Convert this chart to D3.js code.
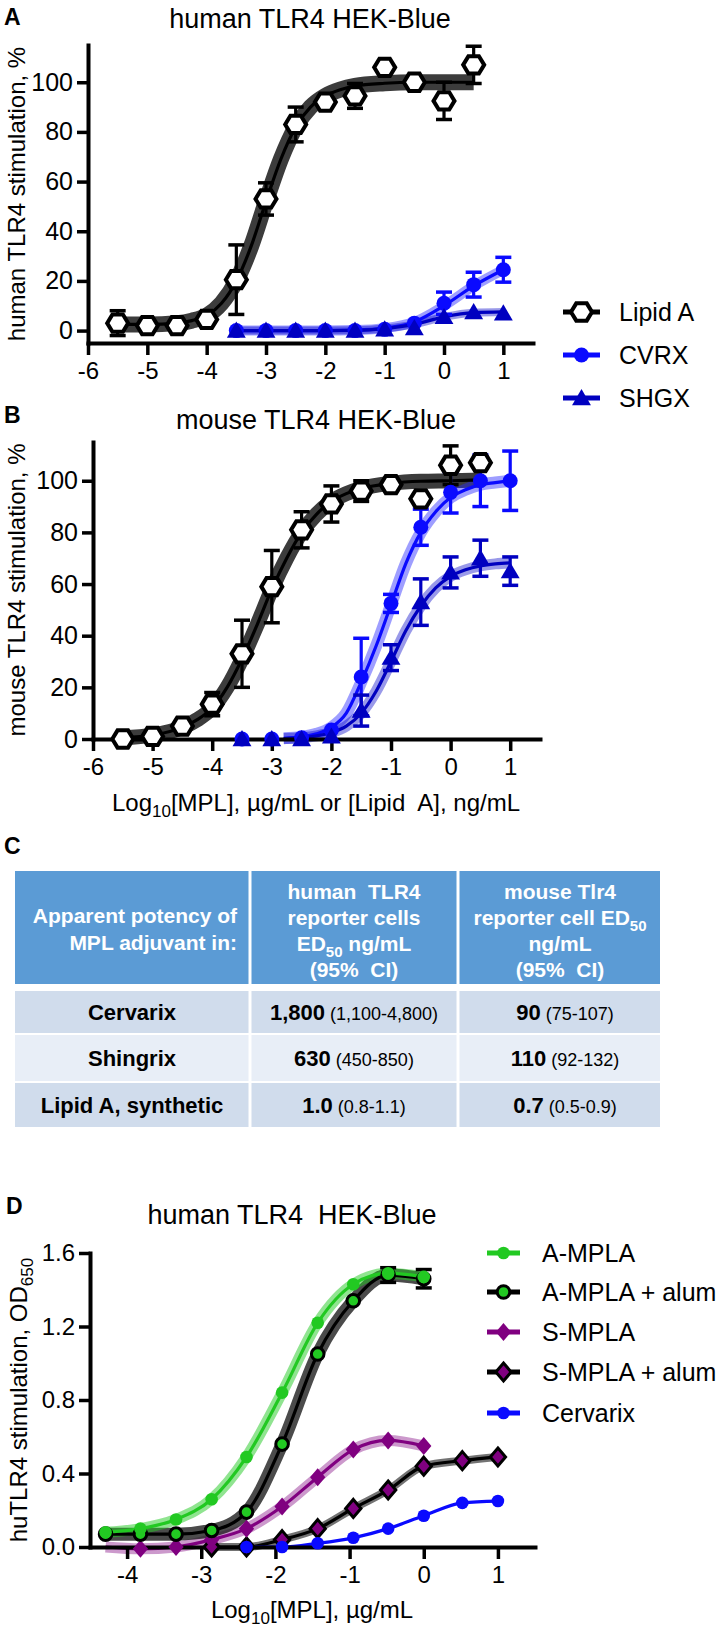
<!DOCTYPE html>
<html>
<head>
<meta charset="utf-8">
<script src="https://cdn.jsdelivr.net/npm/d3@7"></script>
<style>
body { margin: 0; background: #fff; }
svg { display: block; font-family: "Liberation Sans", Arial, sans-serif; }
</style>
</head>
<body>
<svg id="fig" width="719" height="1628"></svg>
<script>

/* ---------- panel A : human TLR4 HEK-Blue (% stimulation) ---------- */
var lipidDose = [-5.5,-5,-4.5,-4,-3.5,-3,-2.5,-2,-1.5,-1,-0.5,0,0.5]
var mplDose = [-3.5,-3,-2.5,-2,-1.5,-1,-0.5,0,0.5,1]

var a_lipid = [3,2,2,4.5,20.5,53,83,92,94.5,106,100,92.5,107]
var a_lipid_err = [5,1,1,1.5,14,6.5,7,2,5,2,1.5,7.5,7.5]
var a_cvrx = [0,0,0,0,0,0.5,3,11,18.5,24.5]
var a_cvrx_err = [0,0,0,0,0,0.5,1.5,4.5,5,5]
var a_shgx = [0,0,0,0,0,0.5,1,5.5,7.5,7]
var a_shgx_err = [0,0,0,0,0,0.5,1,1.5,1.5,1]

/* fitted curves */
var fitA_lipid_x = [-5.5,-5,-4.5,-4.25,-4,-3.75,-3.5,-3.25,-3,-2.75,-2.5,-2.25,-2,-1.75,-1.5,-1,-0.5,0,0.5]
var fitA_lipid = [2.5,2.5,3,4,6,11,20,34,52,69,82,90,94.5,97,98.5,99.6,100,100,100]
var fitA_mpl_x = [-3.5,-3,-2.5,-2,-1.5,-1,-0.5,0,0.5,1]
var fitA_cvrx = [0,0,0,0,0.2,1,3.5,10,18,24.5]
var fitA_shgx = [0,0,0,0,0.1,0.8,2.5,5.5,7.2,7.5]

/* ---------- panel B : mouse TLR4 HEK-Blue ---------- */
var b_lipid = [0,1,5,13.5,33,59,81,91,96,98.5,93,106,107]
var b_lipid_err = [0.5,1,2,4.5,13,14,7,7,4,2,2,7.5,2]
var b_cvrx = [0,0,0.5,3.5,24,52.5,82,95.5,100,100]
var b_cvrx_err = [0,0,0.5,1,15,3.5,7,8,10,11.5]
var b_shgx = [0,0,0,1,11,31.5,53,64.5,70,65]
var b_shgx_err = [0,0,0,1,6,5,9,6,7,5.5]

var fitB_lipid_x = [-5.5,-5,-4.5,-4.25,-4,-3.75,-3.5,-3.25,-3,-2.75,-2.5,-2.25,-2,-1.75,-1.5,-1,-0.5,0,0.5]
var fitB_lipid = [0.5,1.5,4.5,7.5,12,20,31,44,58,70,80,87,92,95,97,99,99.8,100,100.3]
var fitB_mpl_x = [-2.8,-2.5,-2.25,-2,-1.75,-1.5,-1.25,-1,-0.75,-0.5,-0.25,0,0.25,0.5,0.75,1]
var fitB_cvrx = [0.3,0.8,2,4.5,10,22,36,52,68,80,88,93.5,96.5,98.5,99.3,100]
var fitB_shgx = [0.2,0.5,1.2,2.5,5,10,18.5,30,42,51.5,58.5,63,65.5,67,67.8,68.2]

var logTicks = [-6,-5,-4,-3,-2,-1,0,1]
var pctTicks = [0,20,40,60,80,100]

/* ---------- panel C : table ---------- */
var tableHead = [
	["Apparent potency of", "MPL adjuvant in:"],
	["human  TLR4", "reporter cells", "ED|50| ng/mL", "(95%  CI)"],
	["mouse Tlr4", "reporter cell ED|50", "ng/mL", "(95%  CI)"]
]
var rowNames = ["Cervarix", "Shingrix", "Lipid A, synthetic"]
var humanED50 = ["1,800", "630", "1.0"]
var humanCI = ["(1,100-4,800)", "(450-850)", "(0.8-1.1)"]
var mouseED50 = ["90", "110", "0.7"]
var mouseCI = ["(75-107)", "(92-132)", "(0.5-0.9)"]

/* ---------- panel D : OD650 ---------- */
var dDose = [-4.29,-3.82,-3.34,-2.86,-2.39,-1.91,-1.43,-0.95,-0.48,0]
var d_ampla = [0.08,0.10,0.15,0.26,0.49,0.84,1.22,1.43,1.49,1.47]
var d_ampla_alum = [0.07,0.07,0.07,0.09,0.19,0.56,1.05,1.34,1.48,1.46]
var d_ampla_alum_err = [0,0,0,0,0,0,0,0,0.04,0.05]
var d_smpla = [0,-0.01,0,0.04,0.10,0.22,0.38,0.53,0.58,0.55]
var alumDose = [-2.86,-2.39,-1.91,-1.43,-0.95,-0.48,0,0.52,1]
var d_smpla_alum = [0,0,0.04,0.10,0.21,0.31,0.44,0.47,0.49]
var cervDose = [-2.39,-1.91,-1.43,-0.95,-0.48,0,0.52,1]
var d_cervarix = [0,0,0.02,0.05,0.10,0.17,0.24,0.25]

var dLogTicks = [-4,-3,-2,-1,0,1]
var odTicks = [0,0.4,0.8,1.2,1.6]


var BLUE = "#0a0aff", DKBLUE = "#0000c0", GREEN = "#22c922", PURPLE = "#800080"

var svg = d3.select("#fig")

var zip = function(xs, ys, es){
	return xs.map(function(x, i){ return {x: x, y: ys[i], e: es ? es[i] : 0} })
}

/* plain hyphen like the original, not the unicode minus */
var intFmt = function(d){ return String(d) }

/* marker shapes */
var hexPath = function(r){
	var pts = d3.range(6).map(function(i){ var a = Math.PI / 3 * i; return [r * Math.cos(a), r * Math.sin(a) * 0.95] })
	return "M" + pts.join("L") + "Z"
}
var triPath = function(s){ return "M0," + (-s) + "L" + (s * 1.05) + "," + (s * 0.8) + "L" + (-s * 1.05) + "," + (s * 0.8) + "Z" }
var diaPath = function(s){ return "M0," + (-s) + "L" + (s * 0.85) + ",0L0," + s + "L" + (-s * 0.85) + ",0Z" }

var drawMarker = function(g, shape, x, y, fill, stroke, sw){
	var m
	if (shape == "circle") m = g.append("circle").attr("r", 7.5)
	else if (shape == "circleSm") m = g.append("circle").attr("r", 6.3)
	else if (shape == "hex") m = g.append("path").attr("d", hexPath(10.5))
	else if (shape == "tri") m = g.append("path").attr("d", triPath(9))
	else m = g.append("path").attr("d", diaPath(9))
	if (shape == "circle" || shape == "circleSm") m.attr("cx", x).attr("cy", y)
	else m.attr("transform", "translate(" + x + "," + y + ")")
	m.attr("fill", fill).attr("stroke", stroke).attr("stroke-width", sw)
}

var styleAxis = function(g, fontSize){
	g.select(".domain").attr("stroke-width", 4).attr("stroke-linecap", "square")
	g.selectAll(".tick line").attr("stroke-width", 3.5)
	g.selectAll(".tick text").attr("font-size", fontSize).attr("fill", "#000")
		.attr("font-family", "Liberation Sans, Arial, sans-serif")
}

/* one dose response panel */
var drawPanel = function(cfg){
	var x = d3.scaleLinear().domain(cfg.xdom).range(cfg.xr)
	var y = d3.scaleLinear().domain(cfg.ydom).range(cfg.yr)
	var g = svg.append("g")

	var line = d3.line().x(function(d){ return x(d.x) }).y(function(d){ return y(d.y) }).curve(d3.curveMonotoneX)

	/* confidence bands first */
	cfg.series.forEach(function(s){
		if (!s.band) return
		g.append("path").datum(s.fit).attr("d", line).attr("fill", "none")
			.attr("stroke", s.band).attr("stroke-width", s.bandW)
	})
	cfg.series.forEach(function(s){
		g.append("path").datum(s.fit).attr("d", line).attr("fill", "none")
			.attr("stroke", s.lineColor).attr("stroke-width", 3.2)
	})

	/* error bars */
	cfg.series.forEach(function(s){
		s.pts.forEach(function(d){
			if (!d.e || d.e < 1e-9) return
			var x0 = x(d.x), y1 = y(d.y + d.e), y2 = y(d.y - d.e)
			if (Math.abs(y2 - y1) < 12) return
			g.append("line").attr("x1", x0).attr("x2", x0).attr("y1", y1).attr("y2", y2)
				.attr("stroke", s.errColor).attr("stroke-width", 3.2)
			;[y1, y2].forEach(function(yy){
				g.append("line").attr("x1", x0 - 8).attr("x2", x0 + 8).attr("y1", yy).attr("y2", yy)
					.attr("stroke", s.errColor).attr("stroke-width", 3.5)
			})
		})
	})

	/* axes */
	var yAxis = g.append("g").attr("transform", "translate(" + cfg.xr[0] + ",0)")
		.call(d3.axisLeft(y).tickValues(cfg.yticks).tickSize(11).tickSizeOuter(0).tickPadding(4).tickFormat(cfg.yfmt))
	styleAxis(yAxis, cfg.yFont)
	var xAxis = g.append("g").attr("transform", "translate(0," + cfg.yr[0] + ")")
		.call(d3.axisBottom(x).tickValues(cfg.xticks).tickSize(12).tickSizeOuter(0).tickPadding(7).tickFormat(intFmt))
	styleAxis(xAxis, 24)

	/* markers on top */
	cfg.series.forEach(function(s){
		s.pts.forEach(function(d){
			drawMarker(g, s.shape, x(d.x), y(d.y), s.fill, s.stroke, s.sw)
		})
	})
	return g
}

/* panel A */
drawPanel({
	xdom: [-6, 1.5], xr: [88, 533], ydom: [-5, 115], yr: [343, 45],
	yticks: pctTicks, xticks: logTicks, yfmt: intFmt, yFont: 25,
	series: [
		{fit: zip(fitA_lipid_x, fitA_lipid), band: "#3c3c3c", bandW: 16, lineColor: "#000",
			pts: zip(lipidDose, a_lipid, a_lipid_err), errColor: "#000", shape: "hex", fill: "#fff", stroke: "#000", sw: 4},
		{fit: zip(fitA_mpl_x, fitA_cvrx), band: "rgba(40,40,255,0.45)", bandW: 10, lineColor: BLUE,
			pts: zip(mplDose, a_cvrx, a_cvrx_err), errColor: BLUE, shape: "circle", fill: BLUE, stroke: "none", sw: 0},
		{fit: zip(fitA_mpl_x, fitA_shgx), band: "rgba(0,0,200,0.4)", bandW: 8, lineColor: DKBLUE,
			pts: zip(mplDose, a_shgx, a_shgx_err), errColor: DKBLUE, shape: "tri", fill: DKBLUE, stroke: "none", sw: 0}
	]
})

/* panel B : blue drawn first so the hexagons sit on top */
drawPanel({
	xdom: [-6, 1.5], xr: [93, 540], ydom: [0, 115], yr: [739, 442],
	yticks: pctTicks, xticks: logTicks, yfmt: intFmt, yFont: 25,
	series: [
		{fit: zip(fitB_lipid_x, fitB_lipid), band: "#3c3c3c", bandW: 15, lineColor: "#000",
			pts: [], errColor: "#000", shape: "hex"},
		{fit: zip(fitB_mpl_x, fitB_cvrx), band: "rgba(40,40,255,0.45)", bandW: 12, lineColor: BLUE,
			pts: zip(mplDose, b_cvrx, b_cvrx_err), errColor: BLUE, shape: "circle", fill: BLUE, stroke: "none", sw: 0},
		{fit: zip(fitB_mpl_x, fitB_shgx), band: "rgba(0,0,200,0.4)", bandW: 11, lineColor: DKBLUE,
			pts: zip(mplDose, b_shgx, b_shgx_err), errColor: DKBLUE, shape: "tri", fill: DKBLUE, stroke: "none", sw: 0},
		{fit: [], band: null, lineColor: "none",
			pts: zip(lipidDose, b_lipid, b_lipid_err), errColor: "#000", shape: "hex", fill: "#fff", stroke: "#000", sw: 4}
	]
})

/* panel D */
drawPanel({
	xdom: [-4.5, 1.5], xr: [90, 535], ydom: [0, 1.6], yr: [1547, 1253],
	yticks: odTicks, xticks: dLogTicks, yfmt: d3.format(".1f"), yFont: 24,
	series: [
		{fit: zip(alumDose, d_smpla_alum), band: "rgba(0,0,0,0.55)", bandW: 8, lineColor: "#000",
			pts: zip(alumDose, d_smpla_alum), errColor: "#000", shape: "dia", fill: PURPLE, stroke: "#000", sw: 3},
		{fit: zip(dDose, d_smpla), band: "rgba(128,0,128,0.4)", bandW: 11, lineColor: PURPLE,
			pts: zip(dDose.slice(1), d_smpla.slice(1)), errColor: PURPLE, shape: "dia", fill: PURPLE, stroke: "none", sw: 0},
		{fit: zip(cervDose, d_cervarix), band: null, lineColor: BLUE,
			pts: zip(cervDose, d_cervarix), errColor: BLUE, shape: "circleSm", fill: BLUE, stroke: "none", sw: 0},
		{fit: zip(dDose, d_ampla_alum), band: "rgba(30,30,30,0.8)", bandW: 13, lineColor: "#000",
			pts: zip(dDose, d_ampla_alum, d_ampla_alum_err), errColor: "#000", shape: "circleSm", fill: GREEN, stroke: "#000", sw: 3},
		{fit: zip(dDose, d_ampla), band: "rgba(34,201,34,0.5)", bandW: 11, lineColor: GREEN,
			pts: zip(dDose, d_ampla), errColor: GREEN, shape: "circleSm", fill: GREEN, stroke: "none", sw: 0}
	]
})

/* ---------- text: panel letters, titles, axis titles ---------- */
var txt = function(x, y, s, size, opts){
	opts = opts || {}
	return svg.append("text").attr("x", x).attr("y", y).attr("font-size", size)
		.attr("text-anchor", opts.anchor || "start").attr("font-weight", opts.bold ? "bold" : "normal")
		.attr("fill", opts.fill || "#000").text(s)
}

txt(4, 25, "A", 23, {bold: true})
txt(4, 423, "B", 23, {bold: true})
txt(4, 854, "C", 23, {bold: true})
txt(6, 1214, "D", 23, {bold: true})

txt(310, 28, "human TLR4 HEK-Blue", 27, {anchor: "middle"})
txt(316, 429, "mouse TLR4 HEK-Blue", 27, {anchor: "middle"})
txt(292, 1224, "human TLR4  HEK-Blue", 27, {anchor: "middle"}).style("white-space", "pre")

svg.append("text").attr("transform", "translate(25,194) rotate(-90)").attr("text-anchor", "middle")
	.attr("font-size", 24).text("human TLR4 stimulation, %")
svg.append("text").attr("transform", "translate(25,590) rotate(-90)").attr("text-anchor", "middle")
	.attr("font-size", 24).text("mouse TLR4 stimulation, %")

var yD = svg.append("text").attr("transform", "translate(27,1400) rotate(-90)").attr("text-anchor", "middle")
	.attr("font-size", 24)
yD.append("tspan").text("huTLR4 stimulation, OD")
yD.append("tspan").attr("font-size", 17).attr("dy", 6).text("650")

var logLabel = function(x, y, rest){
	var t = svg.append("text").attr("x", x).attr("y", y).attr("text-anchor", "middle").attr("font-size", 24)
		.style("white-space", "pre")
	t.append("tspan").text("Log")
	t.append("tspan").attr("font-size", 17).attr("dy", 6).text("10")
	t.append("tspan").attr("dy", -6).text(rest)
}
logLabel(316, 811, "[MPL], \u00b5g/mL or [Lipid  A], ng/mL")
logLabel(312, 1618, "[MPL], \u00b5g/mL")

/* ---------- legends ---------- */
var legend = function(items, x0, x1, xt, ys){
	items.forEach(function(it, i){
		var g = svg.append("g")
		g.append("line").attr("x1", x0).attr("x2", x1).attr("y1", ys[i]).attr("y2", ys[i])
			.attr("stroke", it.line).attr("stroke-width", 5)
		drawMarker(g, it.shape, (x0 + x1) / 2, ys[i], it.fill, it.stroke, it.sw)
		txt(xt, ys[i] + 9, it.label, 25)
	})
}
legend([
	{label: "Lipid A", line: "#000", shape: "hex", fill: "#fff", stroke: "#000", sw: 4},
	{label: "CVRX", line: BLUE, shape: "circle", fill: BLUE, stroke: "none", sw: 0},
	{label: "SHGX", line: DKBLUE, shape: "tri", fill: DKBLUE, stroke: "none", sw: 0}
], 563, 600, 619, [312, 355, 398])

legend([
	{label: "A-MPLA", line: GREEN, shape: "circleSm", fill: GREEN, stroke: "none", sw: 0},
	{label: "A-MPLA + alum", line: "#000", shape: "circleSm", fill: GREEN, stroke: "#000", sw: 3},
	{label: "S-MPLA", line: PURPLE, shape: "dia", fill: PURPLE, stroke: "none", sw: 0},
	{label: "S-MPLA + alum", line: "#000", shape: "dia", fill: PURPLE, stroke: "#000", sw: 3},
	{label: "Cervarix", line: BLUE, shape: "circleSm", fill: BLUE, stroke: "none", sw: 0}
], 487, 520, 542, [1253, 1292, 1332, 1372, 1413])

/* ---------- panel C table ---------- */
var colX = [15, 250, 458, 660]
var headTop = 871, headBot = 984
var rowTop = [991, 1035, 1083], rowBot = [1033, 1081, 1127]
var rowFill = ["#d0dcec", "#e8eef7", "#d0dcec"]

var tbl = svg.append("g")
tbl.append("rect").attr("x", colX[0]).attr("y", headTop).attr("width", colX[3] - colX[0])
	.attr("height", headBot - headTop).attr("fill", "#5b9bd5")
rowNames.forEach(function(r, i){
	tbl.append("rect").attr("x", colX[0]).attr("y", rowTop[i]).attr("width", colX[3] - colX[0])
		.attr("height", rowBot[i] - rowTop[i]).attr("fill", rowFill[i])
})
colX.slice(1, 3).forEach(function(cx){
	tbl.append("line").attr("x1", cx).attr("x2", cx).attr("y1", headTop).attr("y2", rowBot[2])
		.attr("stroke", "#fff").attr("stroke-width", 3)
})

/* header lines; "|" marks a subscript */
var headLine = function(x, y, s, anchor){
	var t = tbl.append("text").attr("x", x).attr("y", y).attr("text-anchor", anchor)
		.attr("font-size", 21).attr("font-weight", "bold").attr("fill", "#fff").style("white-space", "pre")
	var parts = s.split("|")
	parts.forEach(function(p, k){
		if (k % 2 == 1) t.append("tspan").attr("font-size", 15).attr("dy", 6).text(p)
		else if (k > 0) t.append("tspan").attr("dy", -6).text(p)
		else t.append("tspan").text(p)
	})
}
headLine(237, 923, tableHead[0][0], "end")
headLine(237, 950, tableHead[0][1], "end")
tableHead[1].forEach(function(s, k){ headLine(354, 899 + k * 26, s, "middle") })
tableHead[2].forEach(function(s, k){ headLine(560, 899 + k * 26, s, "middle") })

rowNames.forEach(function(r, i){
	var yy = (rowTop[i] + rowBot[i]) / 2 + 8
	tbl.append("text").attr("x", 132).attr("y", yy).attr("text-anchor", "middle")
		.attr("font-size", 22).attr("font-weight", "bold").text(r)
	;[[354, humanED50[i], humanCI[i]], [565, mouseED50[i], mouseCI[i]]].forEach(function(c){
		var t = tbl.append("text").attr("x", c[0]).attr("y", yy).attr("text-anchor", "middle")
			.style("white-space", "pre")
		t.append("tspan").attr("font-size", 22).attr("font-weight", "bold").text(c[1])
		t.append("tspan").attr("font-size", 18).text(" " + c[2])
	})
})

</script>
</body>
</html>
